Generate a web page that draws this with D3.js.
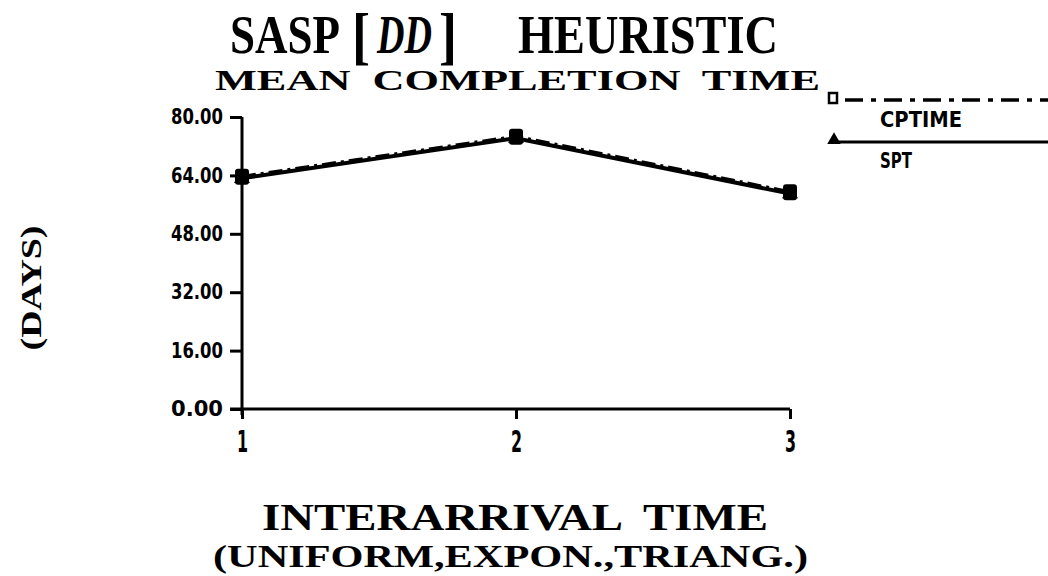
<!DOCTYPE html>
<html><head><meta charset="utf-8">
<script src="https://cdn.jsdelivr.net/npm/d3@7"></script>
<style>body{margin:0;background:#fff}svg{display:block}</style>
</head><body>
<svg id="c" width="1048" height="576"></svg>
<script>
const categories = [1, 2, 3];
const cptime = [63.6, 74.6, 59.4];
const spt = [63.2, 74.2, 59.0];
const yTicks = [0, 16, 32, 48, 64, 80];
const xTicks = [1, 2, 3];
const seriesNames = ["CPTIME", "SPT"];

const svg = d3.select("#c");
const x = d3.scaleLinear().domain([1, 3]).range([242, 790]);
const y = d3.scaleLinear().domain([0, 80]).range([409, 117]);
const serif = "'Liberation Serif','DejaVu Serif',serif";
const narrow = "'Liberation Sans Narrow','DejaVu Sans Condensed','Liberation Sans',sans-serif";

function txt(s, px, py, size, len, fam, opts) {
  opts = opts || {};
  const t = svg.append("text").attr("x", px).attr("y", py)
    .attr("font-family", fam).attr("font-weight", "bold")
    .attr("font-size", size).attr("fill", "#000")
    .attr("text-anchor", opts.anchor || "start")
    .attr("font-style", opts.italic ? "italic" : "normal")
    .style("white-space", "pre")
    .text(s);
  if (len) t.attr("textLength", len).attr("lengthAdjust", "spacingAndGlyphs");
  if (opts.transform) t.attr("transform", opts.transform);
  return t;
}

// Main title pieces: "SASP[ DD]  HEURISTIC"
txt("SASP", 230, 53, 54, 110, serif);
txt("[", 352, 57, 64, 18, serif);
txt("DD", 377, 53, 54, 55, serif, {italic: true});
txt("]", 439, 57, 64, 18, serif);
txt("HEURISTIC", 518, 53, 54, 260, serif);

txt("MEAN  COMPLETION  TIME", 215, 90, 29, 605, serif);
txt("INTERARRIVAL  TIME", 262, 530, 38, 506, serif);
txt("(UNIFORM,EXPON.,TRIANG.)", 213, 567, 32, 595, serif);
txt("(DAYS)", 0, 0, 29, 125, serif, {anchor: "middle", transform: "translate(41,288) rotate(-90)"});

// Y axis
const yAxis = d3.axisLeft(y).tickValues(yTicks).tickSize(12).tickPadding(7)
  .tickFormat(d3.format(".2f"));
const gy = svg.append("g").attr("transform", "translate(242,0)").call(yAxis);
gy.select(".domain").remove();
gy.selectAll(".tick line").attr("stroke", "#000").attr("stroke-width", 3);
gy.selectAll(".tick text").attr("font-family", narrow).attr("font-weight", "bold")
  .attr("font-size", 21).attr("fill", "#000")
  .attr("textLength", 52).attr("lengthAdjust", "spacingAndGlyphs");
svg.append("line").attr("x1", 242).attr("x2", 242).attr("y1", y(80)).attr("y2", y(0) + 6)
  .attr("stroke", "#000").attr("stroke-width", 3);

// X axis
const xAxis = d3.axisBottom(x).tickValues(xTicks).tickSize(10).tickPadding(12)
  .tickFormat(d3.format("d"));
const gx = svg.append("g").attr("transform", `translate(0,${y(0)})`).call(xAxis);
gx.select(".domain").remove();
gx.selectAll(".tick line").attr("stroke", "#000").attr("stroke-width", 3);
gx.selectAll(".tick text").attr("font-family", narrow).attr("font-weight", "bold")
  .attr("font-size", 30).attr("fill", "#000")
  .attr("textLength", 11).attr("lengthAdjust", "spacingAndGlyphs");
svg.append("line").attr("x1", 230).attr("x2", x(3)).attr("y1", y(0)).attr("y2", y(0))
  .attr("stroke", "#000").attr("stroke-width", 3);

// Lines
const line = d3.line().x((d, i) => x(categories[i])).y(d => y(d));
svg.append("path").datum(spt).attr("d", line).attr("fill", "none")
  .attr("stroke", "#000").attr("stroke-width", 4);
svg.append("path").datum(cptime).attr("d", line).attr("fill", "none")
  .attr("stroke", "#000").attr("stroke-width", 4).attr("stroke-dasharray", "14,5,3,5");

// Markers
const tri = d3.symbol().type(d3.symbolTriangle).size(110);
svg.selectAll(".tri").data(spt).enter().append("path")
  .attr("d", tri).attr("transform", (d, i) => `translate(${x(categories[i])},${y(d)})`)
  .attr("fill", "#000");
svg.selectAll(".sq").data(cptime).enter().append("rect")
  .attr("x", (d, i) => x(categories[i]) - 7).attr("y", d => y(d) - 8)
  .attr("width", 14).attr("height", 16).attr("rx", 3)
  .attr("fill", "#000");

// Legend
svg.append("rect").attr("x", 829).attr("y", 93).attr("width", 8).attr("height", 10)
  .attr("fill", "none").attr("stroke", "#000").attr("stroke-width", 2.5);
svg.append("line").attr("x1", 845).attr("x2", 1048).attr("y1", 100).attr("y2", 100)
  .attr("stroke", "#000").attr("stroke-width", 3.5).attr("stroke-dasharray", "18,8,5,8");
txt(seriesNames[0], 880, 127, 22, 82, narrow);
svg.append("path").attr("d", d3.symbol().type(d3.symbolTriangle).size(80))
  .attr("transform", "translate(834,140)").attr("fill", "#000");
svg.append("line").attr("x1", 838).attr("x2", 1048).attr("y1", 142).attr("y2", 142)
  .attr("stroke", "#000").attr("stroke-width", 3);
txt(seriesNames[1], 880, 168, 22, 32, narrow);
</script>
</body></html>
